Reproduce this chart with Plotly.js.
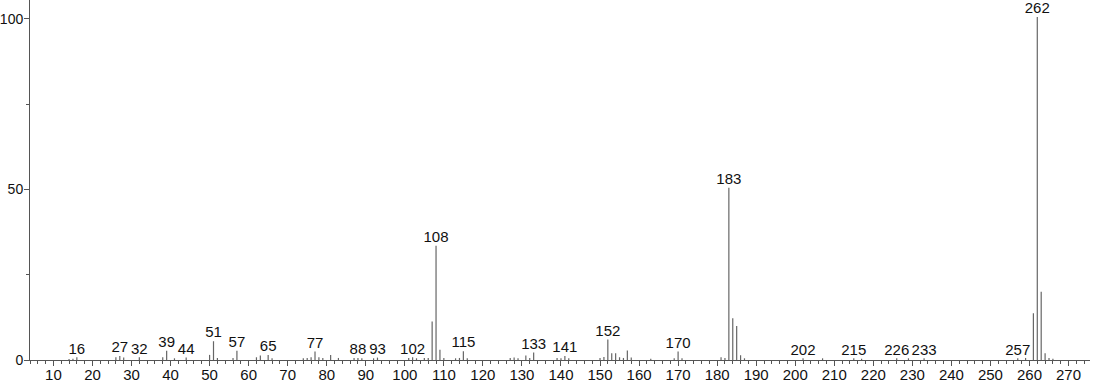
<!DOCTYPE html>
<html><head><meta charset="utf-8">
<script src="https://cdn.plot.ly/plotly-3.0.1.min.js"></script>
<style>html,body{margin:0;padding:0;background:#fff}#c{width:1094px;height:384px}</style>
</head><body><div id="c"></div>
<script>
const mz = [14,15,16,26,27,28,32,38,39,41,44,50,51,52,56,57,62,63,65,66,74,75,76,77,78,79,81,83,87,88,89,92,93,101,102,103,105,106,107,108,109,110,113,114,115,116,127,128,129,131,132,133,139,140,141,142,150,151,152,153,154,155,156,157,158,163,169,170,171,181,182,183,184,185,186,187,202,207,215,217,226,229,233,257,259,261,262,263,264,265,266];
const intensity = [0.3,0.4,0.8,0.8,1.2,0.7,0.8,0.8,2.7,0.5,0.7,1.5,5.5,0.6,0.6,2.7,0.8,1.3,1.5,0.5,0.5,0.6,0.8,2.5,0.8,0.6,1.5,0.6,0.6,0.6,0.5,0.5,0.7,0.6,0.8,0.5,0.6,0.6,11.3,33.5,3.0,0.6,0.5,0.6,2.6,0.5,0.6,0.7,0.5,1.3,0.6,2.2,0.6,0.5,1.2,0.5,0.6,0.9,6.0,2.0,2.0,0.8,0.6,2.8,0.7,0.4,0.5,2.5,0.5,0.8,0.6,50.5,12.2,10,1.4,0.5,0.5,0.5,0.5,0.4,0.5,0.5,0.5,0.5,0.6,13.7,100.5,20,2,0.6,0.4];
const labelMz = [16,27,32,39,44,51,57,65,77,88,93,102,108,115,133,141,152,170,183,202,215,226,233,257,262];
const xTickVals = [10,20,30,40,50,60,70,80,90,100,110,120,130,140,150,160,170,180,190,200,210,220,230,240,250,260,270];
const yTickVals = [0,50,100];

const lx = [], ly = [];
mz.forEach((m,i)=>{ lx.push(m,m,null); ly.push(0,intensity[i],null); });
const labY = labelMz.map(m=>{ const i = mz.indexOf(m); return i>=0 ? intensity[i] : 0; });

const traces = [
  {x:lx, y:ly, type:'scatter', mode:'lines', line:{color:'#666', width:1.2}, hoverinfo:'skip', showlegend:false},
  {x:labelMz, y:labY, type:'scatter', mode:'text', text:labelMz.map(String), textposition:'top center',
   textfont:{family:'Liberation Sans, Arial, sans-serif', size:15, color:'#111'}, showlegend:false, hoverinfo:'skip', cliponaxis:false}
];
const layout = {
  width:1094, height:384,
  margin:{l:30, r:4, t:0, b:24},
  paper_bgcolor:'#fff', plot_bgcolor:'#fff',
  font:{family:'Liberation Sans, Arial, sans-serif', size:15, color:'#111'},
  xaxis:{range:[4,275.5], tickvals:xTickVals, ticks:'outside', ticklen:5, tickcolor:'#555', tickwidth:1,
    showline:true, linecolor:'#555', linewidth:1, showgrid:false, zeroline:false, ticklabelstandoff:-4,
    minor:{dtick:2, tick0:0, ticks:'outside', ticklen:3, tickcolor:'#555', showgrid:false},
    tickfont:{size:15}},
  yaxis:{range:[0,105.5], tickvals:yTickVals, ticks:'outside', ticklen:5, tickcolor:'#555',
    showline:true, linecolor:'#555', linewidth:1, showgrid:false, zeroline:false, ticklabelstandoff:-2,
    minor:{dtick:25, tick0:0, ticks:'outside', ticklen:3, tickcolor:'#555', showgrid:false},
    tickfont:{size:14}}
};
Plotly.newPlot('c', traces, layout, {staticPlot:true, displayModeBar:false});
</script></body></html>
